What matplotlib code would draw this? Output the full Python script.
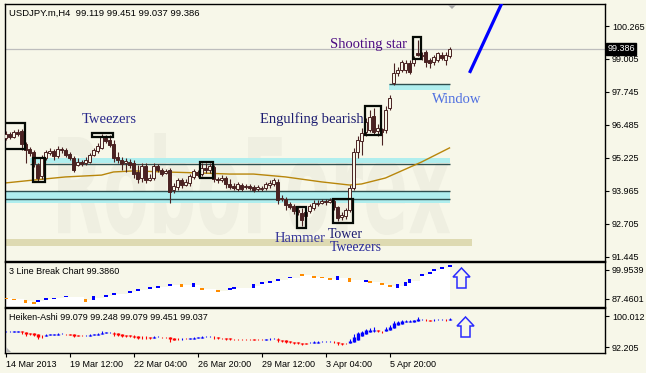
import matplotlib
matplotlib.use('Agg')
import matplotlib.pyplot as plt
from matplotlib.patches import Rectangle, Polygon, PathPatch
from matplotlib.textpath import TextPath
from matplotlib.font_manager import FontProperties
from matplotlib.transforms import Affine2D, IdentityTransform, blended_transform_factory
import numpy as np

# ---------------- data ----------------
opens = [95.98, 96.13, 96.02, 96.21, 96.25, 95.75, 95.56, 95.45, 94.95, 94.53,
         95.21, 95.41, 95.48, 95.29, 95.56, 95.52, 95.37, 95.21, 94.95, 95.06,
         95.02, 95.06, 95.33, 95.48, 95.60, 95.98, 95.90, 95.75, 95.25, 95.14,
         95.02, 95.06, 95.02, 94.68, 94.45, 94.91, 94.37, 94.45, 94.91, 94.76,
         94.64, 94.76, 93.99, 94.10, 94.37, 94.18, 94.26, 94.49, 94.68, 94.60,
         94.83, 94.76, 94.87, 94.41, 94.37, 94.45, 94.22, 94.14, 94.03, 94.18,
         94.10, 94.14, 94.10, 94.03, 94.03, 94.07, 94.18, 94.22, 94.30, 93.65,
         93.65, 93.45, 93.38, 93.23, 93.11, 92.99, 93.19, 93.30, 93.45, 93.49,
         93.57, 93.53, 93.57, 93.34, 92.96, 92.99, 93.23, 94.07, 95.45, 95.87,
         96.21, 96.29, 96.82, 96.25, 96.33, 96.29, 97.13, 98.08, 98.47, 98.58,
         98.58, 98.85, 98.85, 99.23, 99.16, 99.27, 98.96, 98.89, 98.96, 99.16,
         98.96, 99.119]
highs = [96.25, 96.21, 96.29, 96.33, 96.33, 95.83, 95.64, 95.52, 95.02, 95.33,
         95.52, 95.60, 95.56, 95.67, 95.64, 95.60, 95.45, 95.29, 95.21, 95.14,
         95.25, 95.41, 95.60, 95.79, 96.13, 96.10, 96.10, 95.90, 95.45, 95.25,
         95.21, 95.18, 95.14, 94.95, 95.02, 95.02, 94.60, 95.02, 94.99, 94.83,
         94.79, 94.83, 94.26, 94.45, 94.45, 94.41, 94.60, 94.79, 94.76, 95.02,
         95.02, 95.02, 94.95, 94.49, 94.56, 94.53, 94.41, 94.26, 94.30, 94.26,
         94.22, 94.22, 94.18, 94.18, 94.14, 94.30, 94.37, 94.45, 94.41, 93.80,
         93.72, 93.53, 93.45, 93.34, 93.30, 93.23, 93.45, 93.61, 93.61, 93.65,
         93.65, 93.68, 93.65, 93.38, 93.15, 93.30, 94.18, 95.60, 96.06, 96.36,
         96.75, 97.05, 97.13, 96.52, 96.36, 97.20, 97.63, 98.85, 98.70, 98.96,
         98.96, 98.96, 99.12, 99.73, 99.27, 99.35, 99.04, 99.16, 99.27, 99.27,
         99.27, 99.451]
lows = [95.90, 95.94, 95.98, 96.06, 95.52, 95.02, 95.29, 94.87, 94.33, 94.41,
        95.14, 95.33, 95.14, 95.21, 95.41, 95.25, 95.14, 94.68, 94.91, 94.91,
        94.95, 95.02, 95.29, 95.41, 95.56, 95.79, 95.64, 95.06, 95.02, 94.76,
        94.68, 94.83, 94.45, 94.26, 94.30, 94.26, 94.33, 94.37, 94.68, 94.53,
        94.60, 93.49, 93.88, 93.99, 94.07, 94.14, 94.14, 94.41, 94.49, 94.53,
        94.64, 94.64, 94.30, 94.26, 94.30, 94.07, 94.03, 93.99, 93.95, 93.95,
        94.03, 93.99, 93.91, 93.95, 93.95, 93.99, 94.07, 94.14, 93.45, 93.57,
        93.23, 93.26, 93.07, 93.03, 92.61, 92.92, 93.11, 93.23, 93.38, 93.45,
        93.42, 93.49, 93.23, 92.80, 92.84, 92.88, 93.15, 93.99, 95.21, 95.33,
        96.06, 96.21, 96.10, 96.06, 95.71, 96.17, 97.05, 98.01, 98.37, 98.51,
        98.47, 98.43, 98.73, 99.12, 98.96, 98.70, 98.66, 98.77, 98.89, 98.96,
        98.77, 99.037]
closes = [96.13, 96.02, 96.21, 96.13, 95.75, 95.52, 95.41, 95.02, 94.45, 95.25,
          95.45, 95.48, 95.29, 95.56, 95.52, 95.33, 95.21, 94.76, 95.06, 94.99,
          95.14, 95.33, 95.52, 95.67, 96.02, 95.87, 95.71, 95.21, 95.14, 94.99,
          95.10, 94.95, 94.60, 94.41, 94.91, 94.37, 94.45, 94.91, 94.76, 94.60,
          94.72, 93.91, 94.14, 94.37, 94.18, 94.30, 94.53, 94.72, 94.56, 94.83,
          94.76, 94.91, 94.41, 94.37, 94.45, 94.22, 94.10, 94.07, 94.22, 94.03,
          94.14, 94.07, 93.99, 94.10, 94.07, 94.22, 94.26, 94.37, 93.61, 93.68,
          93.42, 93.34, 93.19, 93.15, 92.84, 93.15, 93.38, 93.49, 93.49, 93.57,
          93.53, 93.61, 93.34, 92.92, 93.03, 93.23, 94.07, 95.45, 95.90, 96.17,
          96.59, 96.78, 96.21, 96.36, 96.21, 97.05, 97.51, 98.47, 98.58, 98.89,
          98.85, 98.51, 99.04, 99.16, 99.12, 98.89, 98.85, 99.08, 99.23, 99.04,
          99.16, 99.386]

ma_bars = [0, 7, 15, 24, 27, 32, 40, 49, 56, 62, 70, 79, 86, 89, 95, 104, 111]
ma_vals = [94.26, 94.37, 94.49, 94.56, 94.68, 94.72, 94.68, 94.64, 94.60, 94.60,
           94.49, 94.30, 94.18, 94.22, 94.45, 95.06, 95.60]

lb_bars = [0, 2, 5, 7, 8, 10, 12, 15, 20, 22, 25, 27, 31, 33, 36, 38, 41, 44, 47, 49,
           53, 56, 57, 62, 64, 66, 68, 71, 74, 77, 79, 81, 83, 86, 90, 91, 94, 96, 98,
           100, 101, 104, 106, 107, 109, 111]
lb_vals = [87.68, 87.25, 86.38, 85.74, 86.60, 87.46, 87.76, 88.45, 86.90, 87.89,
           88.75, 89.61, 90.48, 91.34, 92.20, 92.63, 93.49, 93.28, 93.49, 91.77,
           90.90, 91.77, 92.20, 93.06, 94.35, 94.78, 95.65, 96.72, 97.80, 96.94,
           96.72, 96.08, 96.51, 95.65, 95.21, 94.78, 93.92, 93.06, 93.06, 93.92,
           95.21, 97.80, 98.66, 99.95, 100.82, 101.68]
lb_up = [0, 0, 0, 0, 1, 1, 1, 1, 0, 1, 1, 1, 1, 1, 1, 1, 1, 0, 1, 0,
         0, 1, 1, 1, 1, 1, 1, 1, 0, 0, 0, 0, 1, 0, 1, 0, 0, 0, 1, 1,
         1, 1, 1, 1, 1, 1]
lb_block = [0, 0, 1, 0, 0, 0, 0, 0, 1, 1, 0, 0, 0, 0, 0, 0, 0, 1, 1, 0,
            0, 0, 0, 1, 0, 0, 0, 0, 0, 0, 0, 0, 1, 1, 0, 0, 0, 0, 1, 1,
            1, 0, 0, 0, 0, 0]

price_ticks = [100.265, 99.005, 97.745, 96.485, 95.225, 93.965, 92.705, 91.445]
lb_ticks = [99.9539, 87.4601]
ha_ticks = [100.012, 92.205]
time_bars = [0, 16, 32, 48, 64, 80, 96]
time_labels = ['14 Mar 2013', '19 Mar 12:00', '22 Mar 04:00', '26 Mar 20:00',
               '29 Mar 12:00', '3 Apr 04:00', '5 Apr 20:00']
last_price = 99.386

# ---------------- style ----------------
W, H = 646, 373
BG = '#f7f7e9'
CAN = '#4a2222'
CYAN = '#afeeee'
DARKLINE = '#2f4f4f'
SANS = 'Liberation Sans'
SERIF = 'Liberation Serif'
FS = 6.5

fig = plt.figure(figsize=(W / 100, H / 100), dpi=100, facecolor=BG)


def px_axes(x0, y0, x1, y1):
    a = fig.add_axes([x0 / W, 1 - y1 / H, (x1 - x0) / W, (y1 - y0) / H])
    a.set_facecolor(BG)
    for s in a.spines.values():
        s.set_color('black')
        s.set_linewidth(1.0)
    return a


XL = (-0.125, 149.875)
ax = px_axes(5, 4, 605, 261)
ax2 = px_axes(5, 262, 605, 307)
ax3 = px_axes(5, 308, 605, 353)
for a in (ax, ax2, ax3):
    a.set_xlim(*XL)
    a.yaxis.tick_right()
    a.tick_params(axis='y', direction='out', length=3, width=0.8, pad=2,
                  labelsize=FS, colors='black')

ax.set_ylim(91.273, 101.107)
ax2.set_ylim(84.01, 103.40)
ax3.set_ylim(90.70, 102.03)

ax.set_yticks(price_ticks)
ax.set_yticklabels([f'{v:.3f}' for v in price_ticks], fontfamily=SANS, fontsize=FS)
ax2.set_yticks(lb_ticks)
ax2.set_yticklabels([f'{v:.4f}' for v in lb_ticks], fontfamily=SANS, fontsize=FS)
ax3.set_yticks(ha_ticks)
ax3.set_yticklabels([f'{v:.3f}' for v in ha_ticks], fontfamily=SANS, fontsize=FS)
ax.set_xticks([])
ax2.set_xticks([])
ax3.set_xticks(time_bars)
ax3.set_xticklabels(time_labels, fontfamily=SANS, fontsize=FS, ha='left')
ax3.tick_params(axis='x', direction='out', length=3, width=0.8, pad=2)

# ---------------- main panel ----------------
o = np.array(opens); h = np.array(highs); l = np.array(lows); c = np.array(closes)
n = len(o)
xs = np.arange(n)

# watermark
fp = FontProperties(family='DejaVu Sans', weight='bold')
tp = TextPath((0, 0), 'RoboForex', size=100, prop=fp)
bb = tp.get_extents()
tr = (Affine2D().translate(-bb.x0, -bb.y0)
      .scale(392 / bb.width, 102 / bb.height)
      .translate(58, H - 235))
ax.add_patch(PathPatch(tp, transform=tr, fc='#efefe1', ec='none', zorder=0.5))

# bands
ax.add_patch(Rectangle((-0.1, 91.85), 116.7, 0.27, fc='#dedab2', ec='none', zorder=1))
ax.add_patch(Rectangle((6.2, 95.02), 104.8, 0.19, fc=CYAN, ec='none', zorder=1))
ax.hlines(94.99, 6.2, 111, color=DARKLINE, lw=1.0, zorder=1.2)
ax.add_patch(Rectangle((-0.1, 93.49), 111.1, 0.46, fc=CYAN, ec='none', zorder=1))
ax.hlines([93.95, 93.65], -0.1, 111, color=DARKLINE, lw=1.0, zorder=1.2)
ax.add_patch(Rectangle((95.9, 97.82), 15.1, 0.23, fc=CYAN, ec='none', zorder=1))
ax.hlines(98.05, 95.9, 111, color=DARKLINE, lw=1.0, zorder=1.2)

# current price line
ax.axhline(last_price, color='#bdbdbd', lw=0.9, zorder=1.1)

# moving average
ax.plot(ma_bars, ma_vals, color='#b8860b', lw=1.0, zorder=2)

# candles
ax.vlines(xs, l, h, color=CAN, lw=0.8, zorder=3)
for i in range(n):
    lo = min(o[i], c[i])
    hg = max(abs(c[i] - o[i]), 0.025)
    up = c[i] >= o[i]
    ax.add_patch(Rectangle((i - 0.38, lo), 0.76, hg, fc=BG if up else CAN,
                           ec=CAN, lw=0.7, zorder=4))

# pattern boxes (bar_left, bar_right, low, high)
boxes = [(-0.4, 4.9, 95.56, 96.55), (6.9, 9.9, 94.30, 95.21),
         (21.6, 26.9, 96.02, 96.17), (48.6, 51.9, 94.45, 95.06),
         (72.9, 75.1, 92.54, 93.34), (81.9, 86.9, 92.73, 93.65),
         (89.9, 93.9, 96.10, 97.20), (101.9, 103.9, 99.00, 99.84)]
for x0, x1, y0, y1 in boxes:
    ax.add_patch(Rectangle((x0, y0), x1 - x0, y1 - y0, fc='none', ec='#050a05',
                           lw=1.6, zorder=5))

# trend line
ax.plot([116, 126], [98.47, 101.77], color='#0000ff', lw=2.3, zorder=5,
        solid_capstyle='butt')

# labels
TF = dict(fontfamily=SERIF, fontsize=10.5, zorder=6)
ax.text(25.9, 96.67, 'Tweezers', color='#2a2a8c', ha='center', va='center', **TF)
ax.text(100.4, 99.54, 'Shooting star', color='#4b0a82', ha='right', va='center', **TF)
ax.text(89.5, 96.71, 'Engulfing bearish', color='#1c1c70', ha='right', va='center', **TF)
ax.text(106.6, 97.47, 'Window', color='#4f6fe0', ha='left', va='center', **TF)
ax.text(67.4, 92.15, 'Hammer', color='#3a3a9a', ha='left', va='center', **TF)
TF2 = dict(fontfamily=SERIF, fontsize=10, zorder=6)
ax.text(80.7, 92.30, 'Tower', color='#1c1c70', ha='left', va='center', **TF2)
ax.text(81.2, 91.80, 'Tweezers', color='#2a2a9a', ha='left', va='center', **TF2)

# current price box
btr = blended_transform_factory(ax.transAxes, ax.transData)
ax.text(1.004, last_price, f'{last_price:.3f}', transform=btr, color='white',
        fontfamily=SANS, fontsize=FS, ha='left', va='center', zorder=10,
        bbox=dict(boxstyle='square,pad=0.15', fc='black', ec='black'), clip_on=False)

# ---------------- 3 line break panel ----------------
lbx = list(lb_bars) + [111.5]
lbv = list(lb_vals) + [lb_vals[-1]]
ax2.fill_between(np.array(lbx) - 0.5, lbv, 84.01, step='post', color='white',
                 lw=0, zorder=1)
for b, v, u, blk in zip(lb_bars, lb_vals, lb_up, lb_block):
    col = '#0000ff' if u else '#ff8c00'
    if blk:
        ax2.add_patch(Rectangle((b - 0.4, v - 0.75), 0.8, 1.5, fc=col, ec='none', zorder=3))
    else:
        ax2.add_patch(Rectangle((b - 0.5, v - 0.3), 1.0, 0.6, fc=col, ec='none', zorder=3))

# ---------------- Heiken-Ashi panel ----------------
ha_c = (o + h + l + c) / 4
ha_o = np.empty(n)
ha_o[0] = (o[0] + c[0]) / 2
for i in range(1, n):
    ha_o[i] = (ha_o[i - 1] + ha_c[i - 1]) / 2
ha_h = np.maximum.reduce([h, ha_o, ha_c])
ha_l = np.minimum.reduce([l, ha_o, ha_c])
ha_col = np.where(ha_c >= ha_o, '#0000ff', '#ff0000')
ax3.vlines(xs, ha_l, ha_h, colors=ha_col, lw=0.8, zorder=3)
ax3.vlines(xs, ha_o, ha_c, colors=ha_col, lw=2.4, zorder=4)

# ---------------- annotations in pixel space ----------------
def P(pts):
    return [(x, H - y) for x, y in pts]


def arrow(cx, top):
    pts = [(cx, top), (cx + 8.5, top + 9), (cx + 4.5, top + 9), (cx + 4.5, top + 20),
           (cx - 4.5, top + 20), (cx - 4.5, top + 9), (cx - 8.5, top + 9)]
    fig.add_artist(Polygon(P(pts), closed=True, fc='none', ec='#2a2aff', lw=1.1,
                           transform=IdentityTransform()))


arrow(461.5, 268)
arrow(465.5, 317)
fig.add_artist(Polygon(P([(448, 5), (456, 5), (452, 9)]), closed=True, fc='#a8a8a8',
                       ec='none', transform=IdentityTransform()))
fig.add_artist(Polygon(P([(6, 347), (6, 352), (11, 352)]), closed=True, fc='#b4b4b4',
                       ec='none', transform=IdentityTransform()))

fig.text(9 / W, 1 - 13 / H, 'USDJPY.m,H4  99.119 99.451 99.037 99.386',
         fontfamily=SANS, fontsize=6.8, va='center', ha='left', color='black')
fig.text(9 / W, 1 - 272 / H, '3 Line Break Chart 99.3860',
         fontfamily=SANS, fontsize=FS, va='center', ha='left', color='black')
fig.text(9 / W, 1 - 318 / H, 'Heiken-Ashi 99.079 99.248 99.079 99.451 99.037',
         fontfamily=SANS, fontsize=FS, va='center', ha='left', color='black')

fig.savefig('out.png', dpi=100, facecolor=BG)
